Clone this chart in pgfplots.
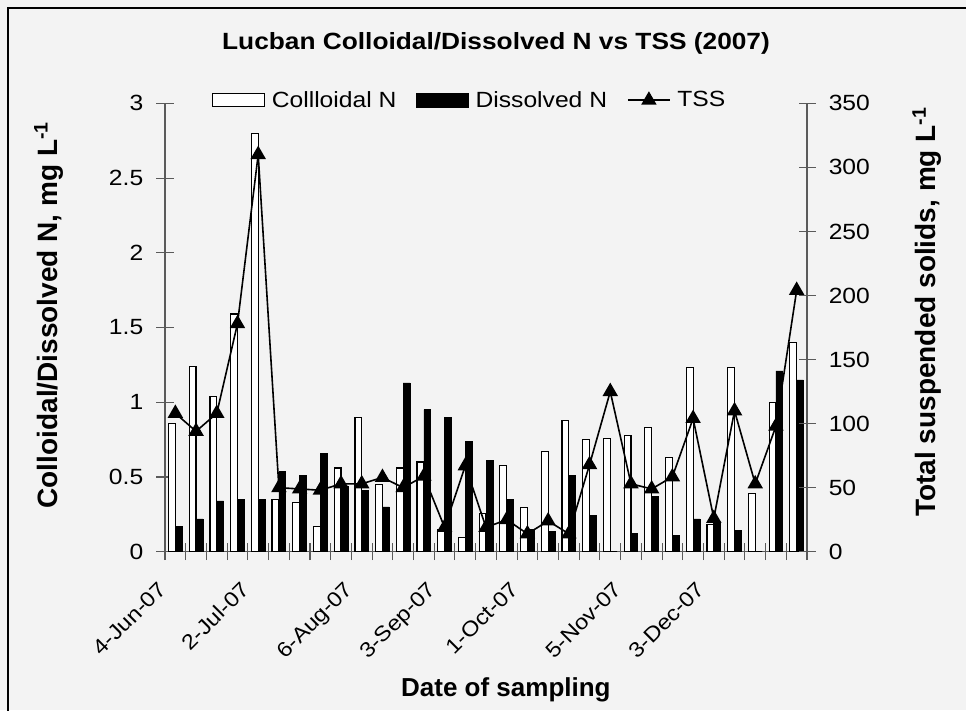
\documentclass[border=0pt]{standalone}
\usepackage{pgfplots}
\usepackage{pgfplotstable}
\pgfplotsset{compat=1.18}
\usepackage{fontspec}
\setmainfont{Liberation Sans}
\newfontfamily\wfont{Liberation Sans}[FakeStretch=1.12]
\definecolor{bg}{HTML}{F3F3F3}
\definecolor{axgray}{HTML}{5A5A5A}

\pgfplotstableread{
x c d t
0 0.86 0.17 108
1 1.24 0.22 94
2 1.04 0.34 108
3 1.59 0.35 178
4 2.80 0.35 310
5 0.35 0.54 50
6 0.33 0.51 49
7 0.17 0.66 48
8 0.56 0.44 53
9 0.90 0.41 53
10 0.45 0.30 58
11 0.56 1.13 50
12 0.60 0.95 59
13 0.145 0.90 19
14 0.094 0.74 67
15 0.255 0.61 19
16 0.575 0.35 25
17 0.295 0.15 14
18 0.67 0.138 24
19 0.88 0.51 14
20 0.75 0.245 68
21 0.76 0 125
22 0.775 0.123 53
23 0.83 0.37 49
24 0.63 0.11 58.5
25 1.23 0.22 104
26 0.18 0.19 26
27 1.23 0.14 110
28 0.39 0 53
29 1.00 1.21 98
30 1.40 1.15 204
}\data

\pgfplotsset{
  common/.style={
    at={(123.75pt,118.7pt)}, anchor=south west, scale only axis,
    width=481.5pt, height=336.3pt,
    xmin=-0.5, xmax=30.5,
    axis line style={axgray, line width=0.8pt, -},
    every tick/.style={axgray, line width=0.8pt},
    tick align=center, major tick length=12.75pt,
    /pgf/number format/assume math mode=true,
    tick label style={font=\wfont\fontsize{16.5}{20}\selectfont},
  },
}
\tikzset{datelab/.style={rotate=45, anchor=north east, inner sep=0pt, font=\wfont\fontsize{15.8}{18}\selectfont}}

\begin{document}
\begin{tikzpicture}
\useasboundingbox (0pt,0pt) rectangle (724.5pt,532.5pt);
\fill[bg] (0pt,0pt) rectangle (724.5pt,532.5pt);
\draw[black, line width=1.2pt] (6pt,-2pt) -- (6pt,526.5pt) -- (726pt,526.5pt);
\node[font=\wfont\fontsize{17.6}{22}\selectfont\bfseries] at (372pt,500pt) {Lucban Colloidal/Dissolved N vs TSS (2007)};

\begin{axis}[common,
  clip=false,
  ymin=0, ymax=3,
  axis y line*=left, axis x line*=bottom,
  xtick={-0.5,0.5,...,30.5}, xticklabels={},
  ytick={0,0.5,...,3},
  yticklabel style={inner sep=0pt, anchor=east, xshift=-9.75pt},
  every axis y label/.style={at={(axis description cs:-0.181,0.528)}, rotate=90, anchor=center, font=\fontsize{21}{24}\selectfont\bfseries},
  every axis x label/.style={at={(axis description cs:0.531,-0.308)}, anchor=center, font=\fontsize{19.5}{22}\selectfont\bfseries},
  ylabel={Colloidal/Dissolved N, mg L\textsuperscript{-1}},
  xlabel={Date of sampling},
]
\addplot[ybar, bar width=0.33, bar shift=0pt, fill=white, draw=black, line width=0.9pt]
  table[x expr=\thisrow{x}-0.165, y=c]{\data};
\addplot[ybar, bar width=0.33, bar shift=0pt, fill=black, draw=black, line width=0.5pt]
  table[x expr=\thisrow{x}+0.165, y=d]{\data};
\node[datelab] at ([xshift=-13.7pt,yshift=-21.2pt]axis cs:0,0) {4-Jun-07};
\node[datelab] at ([xshift=-13.7pt,yshift=-21.2pt]axis cs:4,0) {2-Jul-07};
\node[datelab] at ([xshift=-13.7pt,yshift=-21.2pt]axis cs:9,0) {6-Aug-07};
\node[datelab] at ([xshift=-13.7pt,yshift=-21.2pt]axis cs:13,0) {3-Sep-07};
\node[datelab] at ([xshift=-13.7pt,yshift=-21.2pt]axis cs:17,0) {1-Oct-07};
\node[datelab] at ([xshift=-13.7pt,yshift=-21.2pt]axis cs:22,0) {5-Nov-07};
\node[datelab] at ([xshift=-13.7pt,yshift=-21.2pt]axis cs:26,0) {3-Dec-07};
\end{axis}

\begin{axis}[common,
  ymin=0, ymax=350,
  axis y line*=right, axis x line=none,
  ytick={0,50,...,350},
  yticklabel style={inner sep=0pt, anchor=west, xshift=9.75pt},
  every axis y label/.style={at={(axis description cs:1.187,0.535)}, rotate=90, anchor=center, font=\fontsize{21}{24}\selectfont\bfseries},
  ylabel={Total suspended solids, mg L\textsuperscript{-1}},
  legend style={at={(axis description cs:0.475,1.007)}, anchor=center,
    draw=none, fill=none, legend columns=3,
    font=\wfont\fontsize{16.5}{20}\selectfont,
    /tikz/every odd column/.append style={column sep=3pt},
    /tikz/every even column/.append style={column sep=13pt}},
]
\addlegendimage{legend image code/.code={\draw[fill=white,draw=black,line width=0.9pt] (0pt,-5pt) rectangle (39pt,5pt);}}
\addlegendentry{Collloidal N}
\addlegendimage{legend image code/.code={\draw[fill=black,draw=black] (0pt,-5pt) rectangle (39pt,5pt);}}
\addlegendentry{Dissolved N}
\addplot[black, line width=1.2pt, mark=triangle*, mark size=5.5pt,
  legend image code/.code={\draw[black, line width=1.2pt, mark=triangle*, mark size=5.5pt, mark repeat=2, mark phase=2] plot coordinates {(0pt,0pt) (15.75pt,0pt) (31.5pt,0pt)};}]
  table[x=x, y=t]{\data};
\addlegendentry{TSS}
\end{axis}
\end{tikzpicture}
\end{document}
